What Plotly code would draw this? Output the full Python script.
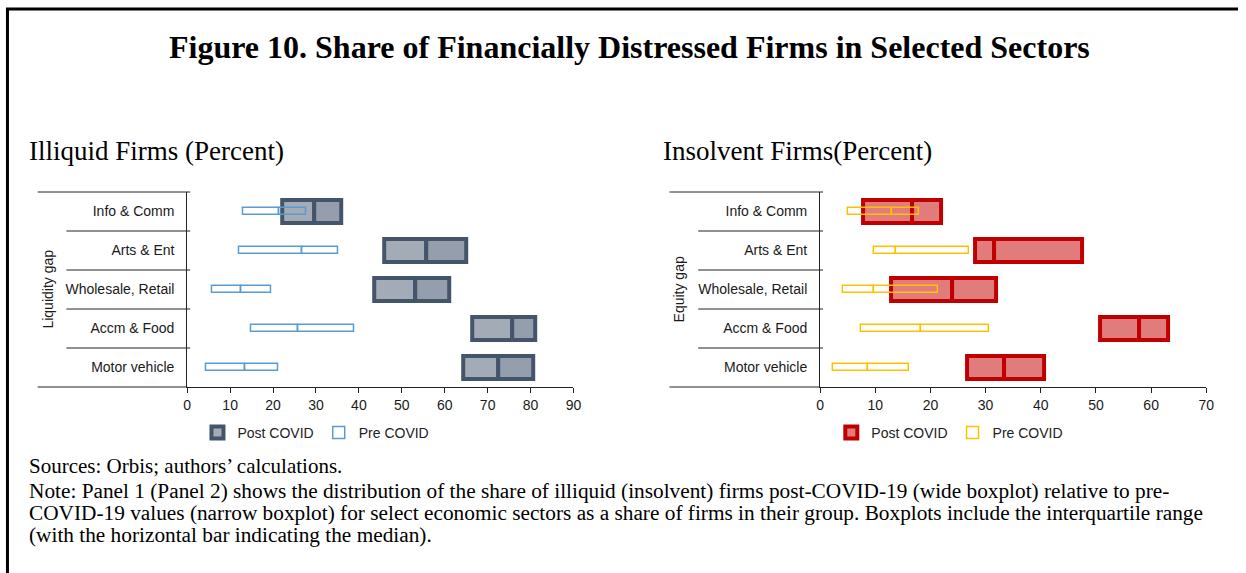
import plotly.graph_objects as go

# ---------------- data ----------------
sectors = ["Info & Comm", "Arts & Ent", "Wholesale, Retail", "Accm & Food", "Motor vehicle"]

# Panel 1: Illiquid firms (percent) - interquartile range and median
illiq_post_q1 = [22.1, 45.8, 43.5, 66.3, 64.3]
illiq_post_med = [29.7, 55.7, 53.1, 75.7, 72.4]
illiq_post_q3 = [35.8, 64.9, 61.1, 81.2, 80.7]
illiq_pre_q1 = [13.1, 12.2, 5.9, 14.9, 4.5]
illiq_pre_med = [21.5, 26.7, 12.5, 25.8, 13.5]
illiq_pre_q3 = [27.8, 35.1, 19.5, 38.9, 21.2]

# Panel 2: Insolvent firms (percent)
insol_post_q1 = [7.8, 28.0, 12.9, 50.8, 26.6]
insol_post_med = [16.7, 31.6, 23.9, 57.9, 33.4]
insol_post_q3 = [21.9, 47.4, 31.9, 63.1, 40.6]
insol_pre_q1 = [5.1, 9.8, 4.1, 7.5, 2.3]
insol_pre_med = [13.1, 13.7, 9.8, 18.3, 8.7]
insol_pre_q3 = [17.9, 27.0, 21.3, 30.6, 16.1]

x_ticks_left = [0, 10, 20, 30, 40, 50, 60, 70, 80, 90]
x_ticks_right = [0, 10, 20, 30, 40, 50, 60, 70]

note_lines = [
    "Note: Panel 1 (Panel 2) shows the distribution of the share of illiquid (insolvent) firms post-COVID-19 (wide boxplot) relative to pre-",
    "COVID-19 values (narrow boxplot) for select economic sectors as a share of firms in their group. Boxplots include the interquartile range",
    "(with the horizontal bar indicating the median).",
]

# ---------------- layout helpers ----------------
W, H = 1246, 573
def px(x):
    return x / W
def py(y):
    return 1 - y / H

TOP, BOT = 192, 387
BAND = (BOT - TOP) / len(sectors)

fig = go.Figure()

def add_panel(xa, ya, legend, q1, med, q3, pq1, pmed, pq3, fill1, fill2, border, pre_col):
    diff = lambda a, b: [bb - aa for aa, bb in zip(a, b)]
    common = dict(orientation="h", y=sectors, xaxis=xa, yaxis=ya, legend=legend,
                  hoverinfo="skip")
    fig.add_trace(go.Bar(x=diff(q1, med), base=q1, name="Post COVID", width=0.6,
                         marker=dict(color=fill1, line=dict(color=border, width=4)),
                         legendgroup=legend + "post", showlegend=True, **common))
    fig.add_trace(go.Bar(x=diff(med, q3), base=med, name="Post COVID", width=0.6,
                         marker=dict(color=fill2, line=dict(color=border, width=4)),
                         legendgroup=legend + "post", showlegend=False, **common))
    fig.add_trace(go.Bar(x=diff(pq1, pmed), base=pq1, name="Pre COVID", width=0.2,
                         marker=dict(color="rgba(0,0,0,0)", line=dict(color=pre_col, width=1.5)),
                         legendgroup=legend + "pre", showlegend=True, **common))
    fig.add_trace(go.Bar(x=diff(pmed, pq3), base=pmed, name="Pre COVID", width=0.2,
                         marker=dict(color="rgba(0,0,0,0)", line=dict(color=pre_col, width=1.5)),
                         legendgroup=legend + "pre", showlegend=False, **common))

add_panel("x", "y", "legend", illiq_post_q1, illiq_post_med, illiq_post_q3,
          illiq_pre_q1, illiq_pre_med, illiq_pre_q3,
          "#A3ABB7", "#949EAC", "#44546A", "#5B9BD5")
add_panel("x2", "y2", "legend2", insol_post_q1, insol_post_med, insol_post_q3,
          insol_pre_q1, insol_pre_med, insol_pre_q3,
          "#E07C7C", "#E07C7C", "#C00000", "#FFC000")

sans = "Liberation Sans, Arial, sans-serif"
axis_font = dict(family=sans, size=14, color="#1a1a1a")
xcommon = dict(showgrid=False, zeroline=False, showline=True, linecolor="#222222",
               linewidth=1, ticks="outside", ticklen=5, tickcolor="#222222",
               tickfont=axis_font, fixedrange=True)
ycommon = dict(showgrid=False, zeroline=False, showline=True, linecolor="#222222",
               linewidth=1, ticks="", tickfont=axis_font, autorange="reversed",
               categoryorder="array", categoryarray=sectors, ticklabelstandoff=9,
               fixedrange=True)

legend_common = dict(orientation="h", xanchor="center", yanchor="middle",
                     font=dict(family=sans, size=14, color="#222"),
                     itemwidth=30, tracegroupgap=0, bgcolor="rgba(0,0,0,0)")

fig.update_layout(
    width=W, height=H,
    margin=dict(l=0, r=0, t=0, b=0),
    paper_bgcolor="white", plot_bgcolor="white",
    barmode="overlay", bargap=0,
    xaxis=dict(domain=[px(185), px(575)], range=[0, 90], tickvals=x_ticks_left,
               anchor="y", **xcommon),
    yaxis=dict(domain=[py(BOT), py(TOP)], anchor="x", **ycommon),
    xaxis2=dict(domain=[px(824), px(1214)], range=[0, 70], tickvals=x_ticks_right,
                anchor="y2", **xcommon),
    yaxis2=dict(domain=[py(BOT), py(TOP)], anchor="x2", **ycommon),
    legend=dict(x=px(315), y=py(433), **legend_common),
    legend2=dict(x=px(955), y=py(433), **legend_common),
    showlegend=True,
)

shapes = []
line_col = "#222222"
# frame (top and left edges)
shapes.append(dict(type="line", xref="paper", yref="paper", x0=px(2), x1=1, y0=py(9), y1=py(9),
                   line=dict(color="black", width=3)))
shapes.append(dict(type="line", xref="paper", yref="paper", x0=px(3.5), x1=px(3.5), y0=py(8), y1=0,
                   line=dict(color="black", width=3)))

for outer_x, inner_x, axis_x in [(34, 63, 185), (672, 701, 824)]:
    shapes.append(dict(type="line", xref="paper", yref="paper", x0=px(outer_x), x1=px(axis_x + 3),
                       y0=py(TOP), y1=py(TOP), line=dict(color=line_col, width=1)))
    shapes.append(dict(type="line", xref="paper", yref="paper", x0=px(outer_x), x1=px(axis_x),
                       y0=py(BOT), y1=py(BOT), line=dict(color=line_col, width=1)))
    for k in range(1, len(sectors)):
        yy = TOP + BAND * k
        shapes.append(dict(type="line", xref="paper", yref="paper", x0=px(inner_x), x1=px(axis_x + 3),
                           y0=py(yy), y1=py(yy), line=dict(color=line_col, width=1)))

serif = "Liberation Serif, Times New Roman, serif"
def ann(text, x, y, size, xanchor="left", **kw):
    d = dict(text=text, x=px(x), y=py(y), xref="paper", yref="paper", xanchor=xanchor,
             yanchor="middle", showarrow=False, font=dict(family=kw.pop("family", serif), size=size,
             color=kw.pop("color", "black")))
    d.update(kw)
    return d

annotations = [
    ann("<b>Figure 10. Share of Financially Distressed Firms in Selected Sectors</b>", 632, 47, 32,
        xanchor="center"),
    ann("Illiquid Firms (Percent)", 23, 151, 27),
    ann("Insolvent Firms(Percent)", 663, 151, 27),
    ann("Liquidity gap", 44, 289, 14, xanchor="center", textangle=-90, family=sans, color="#1a1a1a"),
    ann("Equity gap", 682, 289, 14, xanchor="center", textangle=-90, family=sans, color="#1a1a1a"),
    ann("Sources: Orbis; authors’ calculations.", 23, 466, 21),
]
for i, line in enumerate(note_lines):
    annotations.append(ann(line, 23, 491 + i * 22, 21.3))

fig.update_layout(shapes=shapes, annotations=annotations)

fig.write_html(
    "out.html", config={"displayModeBar": False},
    post_script=("document.documentElement.style.margin='0px';"
                 "document.documentElement.style.overflow='hidden';"
                 "document.body.style.margin='0px';"
                 "document.body.style.overflow='hidden';"),
)
